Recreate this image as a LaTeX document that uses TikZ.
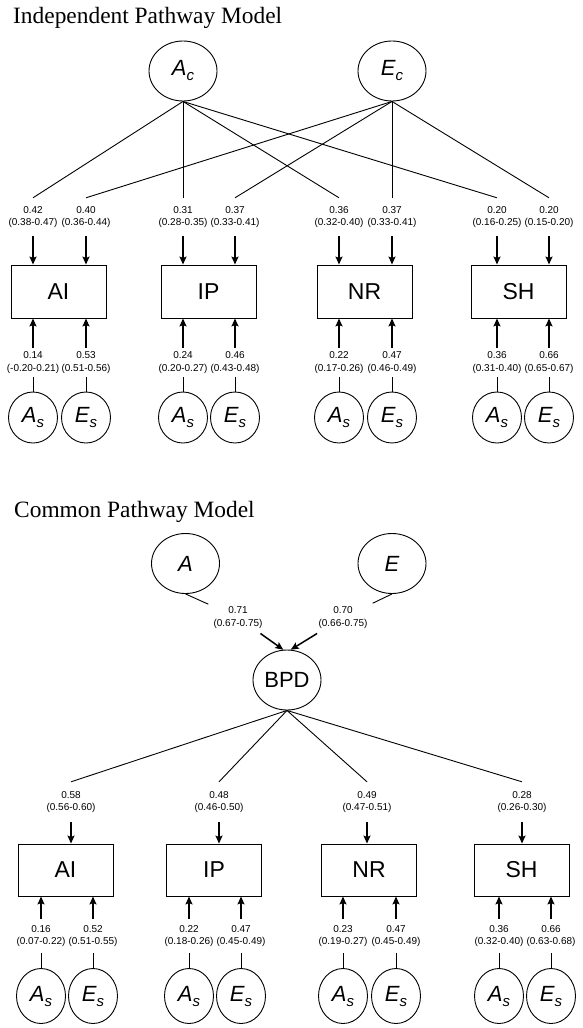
\documentclass[tikz,border=0pt]{standalone}
\usepackage{fontspec}
\setmainfont{Liberation Serif}
\setsansfont{Liberation Sans}
\usetikzlibrary{shapes.geometric, arrows.meta, positioning}

\newcommand{\lvar}[2]{\textit{#1\raisebox{-5pt}{\fontsize{15}{15}\selectfont #2}}}

\tikzset{
  latent/.style={draw, ellipse, line width=0.9pt, minimum width=68pt, minimum height=60pt, inner sep=0pt, font=\sffamily\fontsize{22}{22}\selectfont},
  resid/.style={draw, ellipse, line width=0.9pt, minimum width=49pt, minimum height=51pt, inner sep=0pt, font=\sffamily\fontsize{22}{22}\selectfont},
  trait/.style={draw, rectangle, line width=0.9pt, minimum width=95pt, minimum height=53pt, inner sep=0pt, font=\sffamily\fontsize{23}{23}\selectfont},
  est/.style={align=center, inner sep=0pt, font=\sffamily\fontsize{10}{12.5}\selectfont},
  load/.style={line width=0.9pt},
  arr/.style={-{Stealth[length=8pt,width=7pt,inset=1.5pt]}, line width=1.5pt},
  heading/.style={anchor=base west, inner sep=0pt, font=\fontsize{23.4}{28}\selectfont}
}

\begin{document}
\begin{tikzpicture}[x=1pt, y=-1pt, node distance=55pt]
      \useasboundingbox (0,0) rectangle (582,1028);

      % Independent pathway model
      \node[heading] (ttl1) at (13,23) {Independent Pathway Model};
      \node[latent] (Ac) at (183,71) {\lvar{A}{c}};
      \node[latent] (Ec) at (392,71) {\lvar{E}{c}};

      % traits
      \node[trait] (AI1) at (58.5,291.5) {AI};
      \node[trait] (IP1) at (208.5,291.5) {IP};
      \node[trait] (NR1) at (364.5,291.5) {NR};
      \node[trait] (SH1) at (518.5,291.5) {SH};

      % common loadings
      \node[est, minimum height=38pt] (ca1) at (33,217) {0.42\\(0.38-0.47)};
      \node[est, minimum height=38pt] (ce1) at (86,217) {0.40\\(0.36-0.44)};
      \node[est, minimum height=38pt] (ca2) at (183,217) {0.31\\(0.28-0.35)};
      \node[est, minimum height=38pt] (ce2) at (235,217) {0.37\\(0.33-0.41)};
      \node[est, minimum height=38pt] (ca3) at (339,217) {0.36\\(0.32-0.40)};
      \node[est, minimum height=38pt] (ce3) at (392,217) {0.37\\(0.33-0.41)};
      \node[est, minimum height=38pt] (ca4) at (497,217) {0.20\\(0.16-0.25)};
      \node[est, minimum height=38pt] (ce4) at (549,217) {0.20\\(0.15-0.20)};

      % specific loadings
      \node[est, minimum height=29pt] (sa1) at (33,362.5) {0.14\\(-0.20-0.21)};
      \node[est, minimum height=29pt] (se1) at (86,362.5) {0.53\\(0.51-0.56)};
      \node[est, minimum height=29pt] (sa2) at (183,362.5) {0.24\\(0.20-0.27)};
      \node[est, minimum height=29pt] (se2) at (235,362.5) {0.46\\(0.43-0.48)};
      \node[est, minimum height=29pt] (sa3) at (339,362.5) {0.22\\(0.17-0.26)};
      \node[est, minimum height=29pt] (se3) at (392,362.5) {0.47\\(0.46-0.49)};
      \node[est, minimum height=29pt] (sa4) at (497,362.5) {0.36\\(0.31-0.40)};
      \node[est, minimum height=29pt] (se4) at (549,362.5) {0.66\\(0.65-0.67)};

      % specific factors
      \node[resid] (As1) [below of=sa1] {\lvar{A}{s}};
      \node[resid] (Es1) [below of=se1] {\lvar{E}{s}};
      \node[resid] (As2) [below of=sa2] {\lvar{A}{s}};
      \node[resid] (Es2) [below of=se2] {\lvar{E}{s}};
      \node[resid] (As3) [below of=sa3] {\lvar{A}{s}};
      \node[resid] (Es3) [below of=se3] {\lvar{E}{s}};
      \node[resid] (As4) [below of=sa4] {\lvar{A}{s}};
      \node[resid] (Es4) [below of=se4] {\lvar{E}{s}};

      % paths from Ac and Ec
      \path (Ac.south) edge[load] (ca1.north)
            (Ac.south) edge[load] (ca2.north)
            (Ac.south) edge[load] (ca3.north)
            (Ac.south) edge[load] (ca4.north)
            (Ec.south) edge[load] (ce1.north)
            (Ec.south) edge[load] (ce2.north)
            (Ec.south) edge[load] (ce3.north)
            (Ec.south) edge[load] (ce4.north)
            ;
      \path (ca1.south) edge[arr] (ca1.south |- AI1.north)
            (ce1.south) edge[arr] (ce1.south |- AI1.north)
            (ca2.south) edge[arr] (ca2.south |- IP1.north)
            (ce2.south) edge[arr] (ce2.south |- IP1.north)
            (ca3.south) edge[arr] (ca3.south |- NR1.north)
            (ce3.south) edge[arr] (ce3.south |- NR1.north)
            (ca4.south) edge[arr] (ca4.south |- SH1.north)
            (ce4.south) edge[arr] (ce4.south |- SH1.north)
            ;

      % paths from As and Es
      \path (As1.north) edge[load] (sa1.south)
            (Es1.north) edge[load] (se1.south)
            (As2.north) edge[load] (sa2.south)
            (Es2.north) edge[load] (se2.south)
            (As3.north) edge[load] (sa3.south)
            (Es3.north) edge[load] (se3.south)
            (As4.north) edge[load] (sa4.south)
            (Es4.north) edge[load] (se4.south)
            ;
      \path (sa1.north) edge[arr] (sa1.north |- AI1.south)
            (se1.north) edge[arr] (se1.north |- AI1.south)
            (sa2.north) edge[arr] (sa2.north |- IP1.south)
            (se2.north) edge[arr] (se2.north |- IP1.south)
            (sa3.north) edge[arr] (sa3.north |- NR1.south)
            (se3.north) edge[arr] (se3.north |- NR1.south)
            (sa4.north) edge[arr] (sa4.north |- SH1.south)
            (se4.north) edge[arr] (se4.north |- SH1.south)
            ;

      % Common pathway model
      \node[heading] (ttl2) at (14,517) {Common Pathway Model};
      \node[latent] (A) at (185.5,563.5) {\textit{A}};
      \node[latent] (E) at (392,563.5) {\textit{E}};
      \node[est, inner sep=5pt] (pa) at (238,617.5) {0.71\\(0.67-0.75)};
      \node[est, inner sep=5pt] (pe) at (343,617.5) {0.70\\(0.66-0.75)};
      \node[latent] (BPD) at (287,680) {BPD};

      \path (A.south) edge[load] (pa)
            (pa) edge[arr] (BPD.97)
            (E.south) edge[load] (pe)
            (pe) edge[arr] (BPD.83)
            ;

      % traits
      \node[trait, minimum height=52pt] (AI2) at (65.5,870) {AI};
      \node[trait, minimum height=52pt] (IP2) at (214,870) {IP};
      \node[trait, minimum height=52pt] (NR2) at (369,870) {NR};
      \node[trait, minimum height=52pt] (SH2) at (521.5,870) {SH};

      % loadings on BPD
      \node[est, minimum height=40pt] (b1) at (71,802) {0.58\\(0.56-0.60)};
      \node[est, minimum height=40pt] (b2) at (219,802) {0.48\\(0.46-0.50)};
      \node[est, minimum height=40pt] (b3) at (367,802) {0.49\\(0.47-0.51)};
      \node[est, minimum height=40pt] (b4) at (522,802) {0.28\\(0.26-0.30)};

      \path (BPD.south) edge[load] (b1.north)
            (BPD.south) edge[load] (b2.north)
            (BPD.south) edge[load] (b3.north)
            (BPD.south) edge[load] (b4.north)
            (b1.south) edge[arr] (b1.south |- AI2.north)
            (b2.south) edge[arr] (b2.south |- IP2.north)
            (b3.south) edge[arr] (b3.south |- NR2.north)
            (b4.south) edge[arr] (b4.south |- SH2.north)
            ;

      % specific loadings
      \node[est, minimum height=34pt] (ta1) at (41,936) {0.16\\(0.07-0.22)};
      \node[est, minimum height=34pt] (te1) at (93,936) {0.52\\(0.51-0.55)};
      \node[est, minimum height=34pt] (ta2) at (189,936) {0.22\\(0.18-0.26)};
      \node[est, minimum height=34pt] (te2) at (241,936) {0.47\\(0.45-0.49)};
      \node[est, minimum height=34pt] (ta3) at (343,936) {0.23\\(0.19-0.27)};
      \node[est, minimum height=34pt] (te3) at (396,936) {0.47\\(0.45-0.49)};
      \node[est, minimum height=34pt] (ta4) at (499,936) {0.36\\(0.32-0.40)};
      \node[est, minimum height=34pt] (te4) at (551,936) {0.66\\(0.63-0.68)};

      % specific factors
      \node[resid, minimum height=55pt, node distance=60pt] (As5) [below of=ta1] {\lvar{A}{s}};
      \node[resid, minimum height=55pt, node distance=60pt] (Es5) [below of=te1] {\lvar{E}{s}};
      \node[resid, minimum height=55pt, node distance=60pt] (As6) [below of=ta2] {\lvar{A}{s}};
      \node[resid, minimum height=55pt, node distance=60pt] (Es6) [below of=te2] {\lvar{E}{s}};
      \node[resid, minimum height=55pt, node distance=60pt] (As7) [below of=ta3] {\lvar{A}{s}};
      \node[resid, minimum height=55pt, node distance=60pt] (Es7) [below of=te3] {\lvar{E}{s}};
      \node[resid, minimum height=55pt, node distance=60pt] (As8) [below of=ta4] {\lvar{A}{s}};
      \node[resid, minimum height=55pt, node distance=60pt] (Es8) [below of=te4] {\lvar{E}{s}};

      \path (As5.north) edge[load] (ta1.south)
            (Es5.north) edge[load] (te1.south)
            (As6.north) edge[load] (ta2.south)
            (Es6.north) edge[load] (te2.south)
            (As7.north) edge[load] (ta3.south)
            (Es7.north) edge[load] (te3.south)
            (As8.north) edge[load] (ta4.south)
            (Es8.north) edge[load] (te4.south)
            ;
      \path (ta1.north) edge[arr] (ta1.north |- AI2.south)
            (te1.north) edge[arr] (te1.north |- AI2.south)
            (ta2.north) edge[arr] (ta2.north |- IP2.south)
            (te2.north) edge[arr] (te2.north |- IP2.south)
            (ta3.north) edge[arr] (ta3.north |- NR2.south)
            (te3.north) edge[arr] (te3.north |- NR2.south)
            (ta4.north) edge[arr] (ta4.north |- SH2.south)
            (te4.north) edge[arr] (te4.north |- SH2.south)
            ;
\end{tikzpicture}
\end{document}
